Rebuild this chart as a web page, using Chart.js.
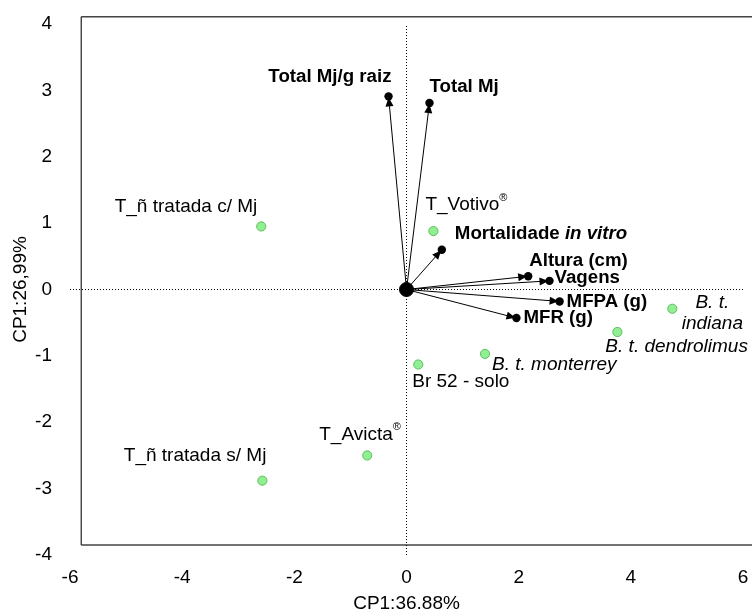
<!DOCTYPE html>
<html><head><meta charset="utf-8">
<style>html,body{margin:0;padding:0;overflow:hidden;background:#fff}canvas{display:block}</style>
<script src="https://cdn.jsdelivr.net/npm/chart.js@4/dist/chart.umd.min.js"></script>
</head><body>
<canvas id="c" width="752" height="625"></canvas>
<script>
// ---------- DATA ----------
const treatmentNames = ['T_ñ tratada c/ Mj', 'T_Votivo®', 'Br 52 - solo', 'B. t. monterrey', 'B. t. dendrolimus', 'B. t.\nindiana', 'T_Avicta®', 'T_ñ tratada s/ Mj'];
const treatmentCP1 = [-2.59, 0.48, 0.21, 1.40, 3.76, 4.74, -0.70, -2.57];
const treatmentCP2 = [0.95, 0.88, -1.13, -0.97, -0.64, -0.29, -2.50, -2.88];

const variableNames = ['Total Mj/g raiz', 'Total Mj', 'Mortalidade in vitro', 'Altura (cm)', 'Vagens', 'MFPA (g)', 'MFR (g)'];
const variableCP1 = [-0.32, 0.41, 0.63, 2.17, 2.55, 2.73, 1.96];
const variableCP2 = [2.91, 2.81, 0.60, 0.20, 0.13, -0.18, -0.43];

const xTicks = [-6, -4, -2, 0, 2, 4, 6];
const yTicks = [-4, -3, -2, -1, 0, 1, 2, 3, 4];
const xTitle = 'CP1:36,88%';
const yTitle = 'CP1:26,99%';

// ---------- STYLE / LAYOUT ----------
const FAMILY = '"Liberation Sans", Arial, Helvetica, sans-serif';
const REG = 19, BOLD = 18.7, SUP = 11;
const treatmentLabelLayout = [
  {dx: -4, dy: -20, align: 'right'},
  {dx: -8, dy: -26, align: 'left'},
  {dx: -6, dy: 17, align: 'left'},
  {dx: 7, dy: 11, align: 'left', italic: true},
  {dx: -12, dy: 15, align: 'left', italic: true},
  {dx: 40, dy: -6, align: 'center', italic: true, lineGap: 21},
  {dx: -48, dy: -21, align: 'left'},
  {dx: 4, dy: -25, align: 'right'}
];
const variableLabelLayout = [
  {dx: 3, dy: -19, align: 'right'},
  {dx: 0, dy: -16, align: 'left'},
  {dx: 13, dy: -16, align: 'left', italicPart: 'in vitro'},
  {dx: 1, dy: -15, align: 'left'},
  {dx: 5, dy: -3, align: 'left'},
  {dx: 7, dy: 0, align: 'left'},
  {dx: 7, dy: 0, align: 'left'}
];
const frameBox = {left: -5.80, top: 4.11, bottom: -3.85};

function segsFor(line, bold, italic, italicPart) {
  const segs = [];
  let parts = [{t: line, italic: italic}];
  if (italicPart && line.includes(italicPart)) {
    const i = line.indexOf(italicPart);
    parts = [{t: line.slice(0, i)}, {t: italicPart, italic: true}, {t: line.slice(i + italicPart.length)}].filter(p => p.t);
  }
  parts.forEach(p => {
    p.t.split(/(®)/).forEach(s => {
      if (!s) return;
      segs.push({t: s, bold: bold, italic: p.italic, sup: s === '®'});
    });
  });
  return segs;
}
function drawRich(ctx, x, y, segs, align) {
  const parts = segs.map(s => {
    const size = s.sup ? SUP : (s.bold ? BOLD : REG);
    const font = (s.italic ? 'italic ' : '') + (s.bold ? 'bold ' : '') + size + 'px ' + FAMILY;
    ctx.font = font;
    return {s: s, font: font, w: ctx.measureText(s.t).width};
  });
  const total = parts.reduce((a, p) => a + p.w, 0);
  let cx = align === 'right' ? x - total : align === 'center' ? x - total / 2 : x;
  ctx.textAlign = 'left';
  ctx.textBaseline = 'middle';
  ctx.fillStyle = '#000';
  parts.forEach(p => {
    ctx.font = p.font;
    ctx.fillText(p.s.t, cx, y + (p.s.sup ? -7 : 0));
    cx += p.w;
  });
}

const framePlugin = {
  id: 'frame',
  beforeDatasetsDraw(chart) {
    const {ctx, scales: {x, y}} = chart;
    const l = x.getPixelForValue(frameBox.left);
    const t = y.getPixelForValue(frameBox.top);
    const b = y.getPixelForValue(frameBox.bottom);
    const r = chart.width + 5;
    ctx.save();
    ctx.strokeStyle = '#444';
    ctx.lineWidth = 1.6;
    ctx.beginPath();
    ctx.moveTo(l, t); ctx.lineTo(r, t);
    ctx.moveTo(l, b); ctx.lineTo(r, b);
    ctx.stroke();
    ctx.strokeStyle = '#222';
    ctx.lineWidth = 1.2;
    ctx.beginPath();
    ctx.moveTo(l, t); ctx.lineTo(l, b);
    ctx.stroke();
    ctx.restore();
  }
};

const arrowPlugin = {
  id: 'arrows',
  afterDatasetsDraw(chart) {
    const ctx = chart.ctx;
    ctx.save();
    ctx.fillStyle = '#000';
    chart.data.datasets.forEach((ds, i) => {
      if (!ds.isArrow) return;
      const meta = chart.getDatasetMeta(i);
      const p0 = meta.data[0], p1 = meta.data[1];
      const dx = p1.x - p0.x, dy = p1.y - p0.y;
      const len = Math.hypot(dx, dy);
      const ux = dx / len, uy = dy / len;
      const ax = p1.x - 1 * ux, ay = p1.y - 1 * uy;
      const bx = p1.x - 10 * ux, by = p1.y - 10 * uy;
      ctx.beginPath();
      ctx.moveTo(ax, ay);
      ctx.lineTo(bx - 4 * uy, by + 4 * ux);
      ctx.lineTo(bx + 4 * uy, by - 4 * ux);
      ctx.closePath();
      ctx.fill();
    });
    ctx.restore();
    // labels
    const {x, y} = chart.scales;
    treatmentNames.forEach((name, i) => {
      const L = treatmentLabelLayout[i];
      const px = x.getPixelForValue(treatmentCP1[i]) + L.dx;
      const py = y.getPixelForValue(treatmentCP2[i]) + L.dy;
      name.split('\n').forEach((line, k) => {
        drawRich(ctx, px, py + k * (L.lineGap || 0), segsFor(line, false, L.italic, null), L.align);
      });
    });
    variableNames.forEach((name, i) => {
      const L = variableLabelLayout[i];
      const px = x.getPixelForValue(variableCP1[i]) + L.dx;
      const py = y.getPixelForValue(variableCP2[i]) + L.dy;
      drawRich(ctx, px, py, segsFor(name, true, false, L.italicPart), L.align);
    });
  }
};

const datasets = [];
datasets.push({
  label: 'origem',
  data: [{x: 0, y: 0}],
  pointRadius: 7, pointBackgroundColor: '#000', pointBorderColor: '#000', showLine: false
});
variableNames.forEach((n, i) => {
  datasets.push({
    label: n, isArrow: true, showLine: true,
    data: [{x: 0, y: 0}, {x: variableCP1[i], y: variableCP2[i]}],
    borderColor: '#000', borderWidth: 1,
    pointRadius: [0, 4.2], pointBackgroundColor: '#000', pointBorderColor: '#000', pointBorderWidth: 0
  });
});
datasets.push({
  label: 'tratamentos', showLine: false,
  data: treatmentCP1.map((v, i) => ({x: v, y: treatmentCP2[i]})),
  pointRadius: 4.6, pointBackgroundColor: '#92ee92', pointBorderColor: '#5cbf5c', pointBorderWidth: 1
});
datasets.push({
  label: 'eixo x', showLine: true, borderDash: [1, 2], borderColor: '#000', borderWidth: 1, pointRadius: 0,
  data: [{x: xTicks[0], y: 0}, {x: xTicks[xTicks.length - 1], y: 0}]
});
datasets.push({
  label: 'eixo y', showLine: true, borderDash: [1, 2], borderColor: '#000', borderWidth: 1, pointRadius: 0,
  data: [{x: 0, y: yTicks[0]}, {x: 0, y: yTicks[yTicks.length - 1]}]
});

const tickFont = {family: FAMILY, size: REG};
new Chart(document.getElementById('c'), {
  type: 'scatter',
  data: {datasets: datasets},
  options: {
    responsive: false, animation: false, devicePixelRatio: 1,
    layout: {padding: {top: 24, right: 9, left: 0, bottom: 0}},
    plugins: {legend: {display: false}, tooltip: {enabled: false}},
    scales: {
      x: {
        type: 'linear', min: xTicks[0], max: xTicks[xTicks.length - 1],
        afterBuildTicks: s => { s.ticks = xTicks.map(v => ({value: v})); },
        afterFit: s => { s.height = 70; s.paddingLeft = 0; s.paddingRight = 0; },
        ticks: {font: tickFont, color: '#000', padding: 11, maxRotation: 0, autoSkip: false},
        grid: {display: false, drawTicks: false}, border: {display: false},
        title: {display: true, text: xTitle, color: '#000', font: tickFont, padding: {top: 0, bottom: 10}}
      },
      y: {
        type: 'linear', min: yTicks[0], max: yTicks[yTicks.length - 1],
        afterBuildTicks: s => { s.ticks = yTicks.map(v => ({value: v})); },
        afterFit: s => { s.width = 70; s.paddingTop = 0; s.paddingBottom = 0; },
        ticks: {font: tickFont, color: '#000', padding: 18, autoSkip: false},
        grid: {display: false, drawTicks: false}, border: {display: false},
        title: {display: true, text: yTitle, color: '#000', font: tickFont, padding: {top: 9, bottom: 0}}
      }
    }
  },
  plugins: [framePlugin, arrowPlugin]
});
</script>
</body></html>
